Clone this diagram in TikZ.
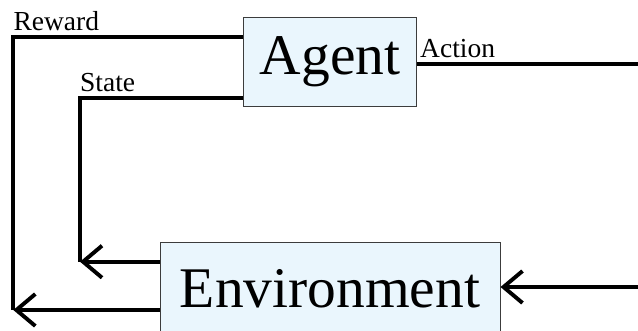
\documentclass[tikz,border=0pt]{standalone}
\usepackage{fontspec}
\setmainfont{Liberation Serif}
\usetikzlibrary{positioning,arrows.meta}
\definecolor{boxfill}{RGB}{234,246,253}
\definecolor{boxline}{RGB}{60,60,60}

\begin{document}
\begin{tikzpicture}[
          x=1pt, y=-1pt,
          >={Straight Barb[length=19pt,width=32pt]},
          link/.style={line width=3.9pt},
          box/.style={draw=boxline, line width=1pt, fill=boxfill,
                      inner sep=0pt, font=\fontsize{57.5}{60}\selectfont},
          lbl/.style={anchor=base west, inner sep=0pt,
                      font=\fontsize{27.5}{30}\selectfont}
        ]
        \clip (0,0) rectangle (638,330);
        \useasboundingbox (0,0) rectangle (638,330);

        \node[box, minimum width=173.5pt, minimum height=89pt]
              (agent) at (330,61.7) {Agent};
        \node[box, minimum width=340pt, minimum height=94pt]
              (env) at (330,289) {Environment};

        % corners of the loops
        \coordinate (rw) at (13.3,37.3);
        \coordinate (rwend) at (13.3,310);
        \coordinate (st) at (80,98.3);
        \coordinate (stend) at (80,261.7);
        \coordinate (act) at (640,64);
        \coordinate (actin) at (640,287);

        % reward loop
        \draw[link] (agent.west |- rw) -- (rw) -- (rwend);
        \draw[link,->] (env.west |- rwend) -- (rwend);
        \node[lbl] (rwlbl) at (13.3,30) {Reward};

        % state loop
        \draw[link] (agent.west |- st) -- (st) -- (stend);
        \draw[link,->] (env.west |- stend) -- (stend);
        \node[lbl] (stlbl) at (80,91.5) {State};

        % action
        \draw[link] (agent.east |- act) -- (act);
        \draw[link,->] (actin) -- (env.east |- actin);
        \node[lbl] (actlbl) at (420,57.5) {Action};
      \end{tikzpicture}
\end{document}
